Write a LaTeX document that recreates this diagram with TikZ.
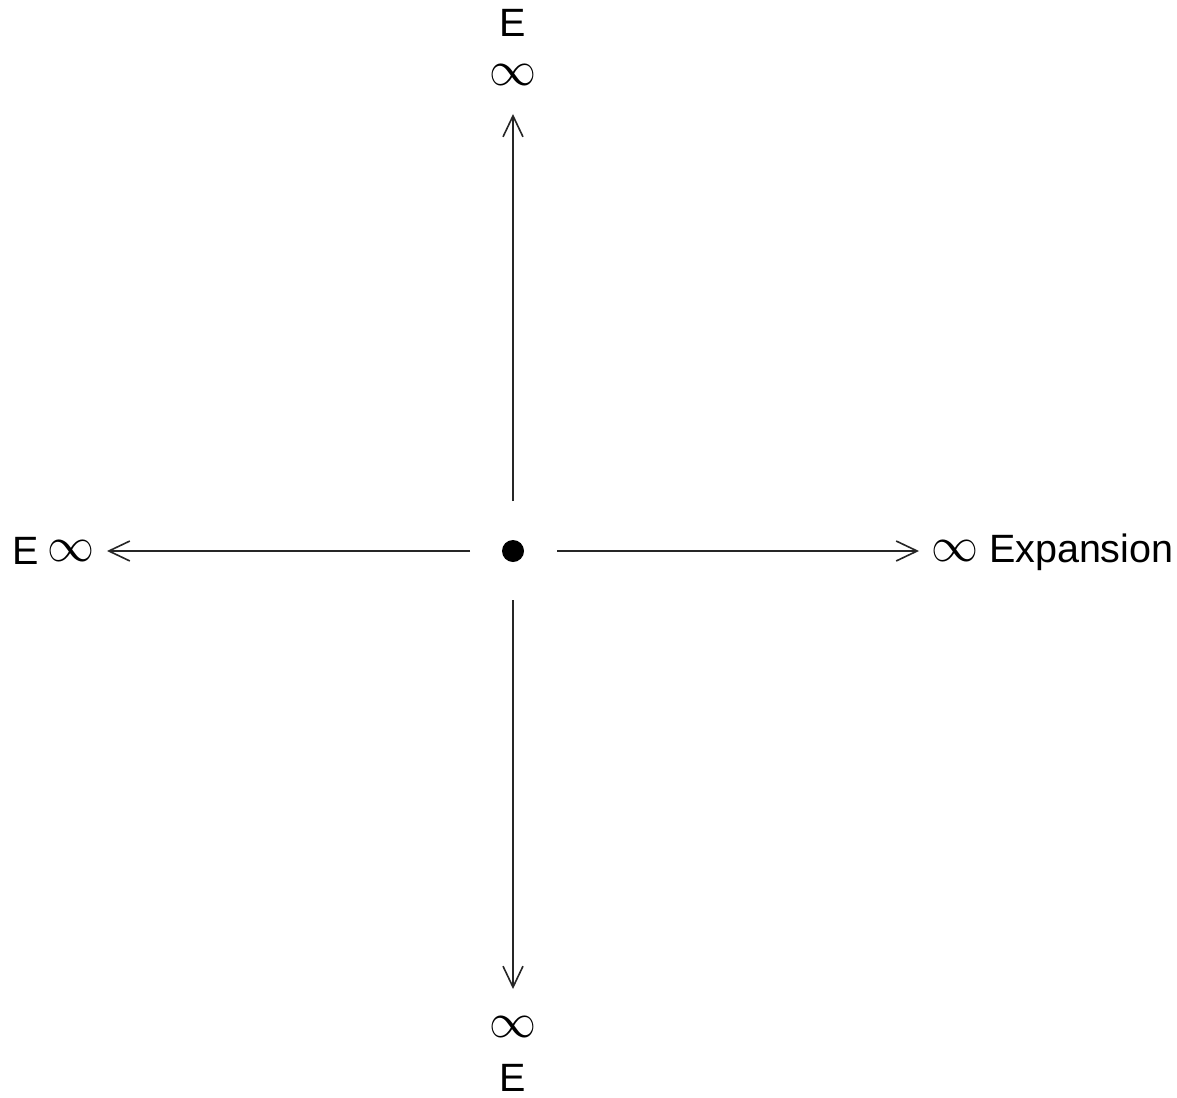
\documentclass[tikz,border=0pt]{standalone}
\usepackage{fontspec}
\setmainfont{Liberation Sans}
\usetikzlibrary{arrows.meta}
\newcommand{\inftysym}{\resizebox{47pt}{21pt}{$\infty$}}
\tikzset{
  lbl/.style={inner sep=0pt, outer sep=0pt, font=\fontsize{39.5}{44}\selectfont},
  elbl/.style={lbl, text depth=0pt, text height=28pt},
  inf/.style={inner sep=0pt, outer sep=0pt},
  arr/.style={line width=1.3pt, draw=black!85, -{Straight Barb[length=21pt,width=20pt,line width=1.6pt]}},
}
\begin{document}
\begin{tikzpicture}[x=1pt,y=-1pt]
\useasboundingbox[fill=white] (0,0) rectangle (1177,1097);
% centre dot
\node[circle, fill=black, inner sep=0pt, minimum size=22pt] (dot) at (513,551) {};
% labels
\node[elbl, anchor=base] (topE) at (513,37) {E};
\node[inf] (topinf) at (513,75) {\inftysym};
\node[inf] (botinf) at (513,1027) {\inftysym};
\node[elbl, anchor=base] (botE) at (513,1091) {E};
\node[elbl, anchor=base] (leftE) at (26,564) {E};
\node[inf] (leftinf) at (71,551) {\inftysym};
\node[inf] (rightinf) at (955,551) {\inftysym};
\node[lbl, anchor=base west] (expansion) at (989,562) {Expansion};
% connector ends
\coordinate (ts) at (513,501);
\coordinate (te) at (513,114);
\coordinate (bs) at (513,600);
\coordinate (be) at (513,989);
\coordinate (ls) at (470,551);
\coordinate (le) at (107,551);
\coordinate (rs) at (557,551);
\coordinate (re) at (919,551);
\draw[arr] (ts) -- (te);
\draw[arr] (bs) -- (be);
\draw[arr] (ls) -- (le);
\draw[arr] (rs) -- (re);
\end{tikzpicture}
\end{document}
